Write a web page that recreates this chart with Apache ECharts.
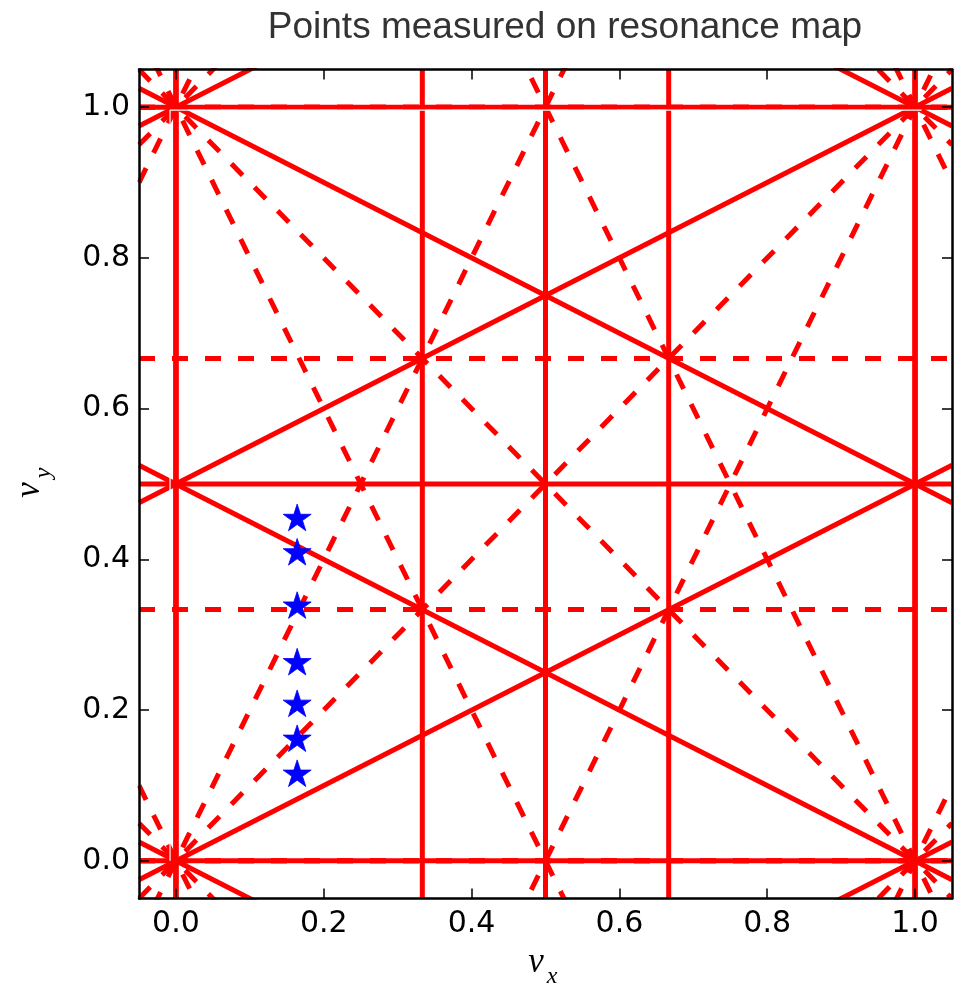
<!DOCTYPE html>
<html>
<head>
<meta charset="utf-8">
<script src="https://cdn.jsdelivr.net/npm/echarts@6/dist/echarts.min.js"></script>
<style>
html,body{margin:0;padding:0;background:#ffffff;}
#chart{width:955px;height:990px;}
</style>
</head>
<body>
<div id="chart"></div>
<script>
// ---------------- data ----------------
const titleText = 'Points measured on resonance map';
const xRange = [-0.05, 1.05];
const yRange = [-0.05, 1.05];
const tickValues = [0, 0.2, 0.4, 0.6, 0.8, 1.0];
const tickLabels = ['0.0', '0.2', '0.4', '0.6', '0.8', '1.0'];

// resonance lines  m*nu_x + n*nu_y = p   (up to third order)
const solidResonances = [
  [1, 0, 0], [1, 0, 1],
  [2, 0, 0], [2, 0, 1], [2, 0, 2],
  [0, 2, 0], [0, 2, 1], [0, 2, 2],
  [3, 0, 0], [3, 0, 1], [3, 0, 2], [3, 0, 3],
  [1, 2, 0], [1, 2, 1], [1, 2, 2], [1, 2, 3],
  [1, -2, -2], [1, -2, -1], [1, -2, 0], [1, -2, 1]
];
const dashedResonances = [
  [0, 1, 0], [0, 1, 1],
  [1, 1, 0], [1, 1, 1], [1, 1, 2],
  [1, -1, -1], [1, -1, 0], [1, -1, 1],
  [0, 3, 0], [0, 3, 1], [0, 3, 2], [0, 3, 3],
  [2, 1, 0], [2, 1, 1], [2, 1, 2], [2, 1, 3],
  [2, -1, -1], [2, -1, 0], [2, -1, 1], [2, -1, 2]
];

// measured working points
const pointNuX = [0.164, 0.164, 0.164, 0.164, 0.164, 0.164, 0.164];
const pointNuY = [0.4538, 0.4082, 0.3375, 0.2624, 0.2072, 0.1608, 0.1144];

// thin white guide seen over the red lines
const guideX = [-0.008, -0.008, 1.009];
const guideY = [0.0, 0.996, 0.996];

// ---------------- build ----------------
function resonanceSegment(m, n, p) {
  if (n === 0) {
    const x = p / m;
    return [[x, yRange[0]], [x, yRange[1]]];
  }
  return [[xRange[0], (p - m * xRange[0]) / n], [xRange[1], (p - m * xRange[1]) / n]];
}

function starPath() {
  const R = 100, r = R * 0.381966;
  let d = '';
  for (let k = 0; k < 10; k++) {
    const a = (-90 + k * 36) * Math.PI / 180;
    const rr = k % 2 === 0 ? R : r;
    const x = (rr * Math.cos(a)).toFixed(2), y = (rr * Math.sin(a)).toFixed(2);
    d += (k === 0 ? 'M' : 'L') + x + ' ' + y + ' ';
  }
  return 'path://' + d + 'Z';
}

function labelFor(v) {
  let best = 0;
  for (let i = 0; i < tickValues.length; i++) {
    if (Math.abs(tickValues[i] - v) < Math.abs(tickValues[best] - v)) best = i;
  }
  return tickLabels[best];
}

const RED = '#ff0000';
const series = [];
solidResonances.forEach(function (r) {
  series.push({
    type: 'line', data: resonanceSegment(r[0], r[1], r[2]),
    showSymbol: false, symbol: 'none', silent: true, clip: true, z: 2,
    lineStyle: { color: RED, width: 5, type: 'solid', cap: 'butt' }
  });
});
dashedResonances.forEach(function (r) {
  series.push({
    type: 'line', data: resonanceSegment(r[0], r[1], r[2]),
    showSymbol: false, symbol: 'none', silent: true, clip: true, z: 2,
    lineStyle: { color: RED, width: 5, type: [16, 17], dashOffset: 0, cap: 'butt' }
  });
});
series.push({
  type: 'line', data: guideX.map(function (x, i) { return [x, guideY[i]]; }),
  showSymbol: false, symbol: 'none', silent: true, clip: true, z: 3,
  lineStyle: { color: '#ffffff', width: 1.2 }
});
series.push({
  type: 'scatter', data: pointNuX.map(function (x, i) { return [x, pointNuY[i]]; }),
  symbol: starPath(), symbolSize: [28, 26.6], symbolOffset: [0, -1.4], z: 4,
  itemStyle: { color: '#0000ff', borderColor: '#0000ff', borderWidth: 0.8, opacity: 1 },
  silent: true
});

const GRID = { left: 139, top: 69.5, width: 813, height: 829 };

function axisCommon(showLabel, isX) {
  return {
    type: 'value', min: isX ? xRange[0] : yRange[0], max: isX ? xRange[1] : yRange[1], z: 10,
    axisLine: { show: true, onZero: false, lineStyle: { color: '#000000', width: 2.5 } },
    axisTick: { show: true, inside: true, length: 10, customValues: tickValues,
      lineStyle: { color: '#000000', width: 1.5 } },
    axisLabel: { show: showLabel, customValues: tickValues, formatter: labelFor,
      fontFamily: 'DejaVu Sans', fontSize: 30, color: '#000000', margin: isX ? 11 : 9 },
    splitLine: { show: false }
  };
}

const xAxes = [Object.assign(axisCommon(true, true), { position: 'bottom' }),
               Object.assign(axisCommon(false, true), { position: 'top' })];
const yAxes = [Object.assign(axisCommon(true, false), { position: 'left' }),
               Object.assign(axisCommon(false, false), { position: 'right' })];

const frameL = GRID.left, frameT = GRID.top, frameR = GRID.left + GRID.width, frameB = GRID.top + GRID.height;
const mask = { fill: '#ffffff' };
const graphic = [
  // masks hiding line overdraw outside the frame
  { type: 'rect', z: 5, silent: true, shape: { x: frameL - 12, y: frameT - 12, width: GRID.width + 24, height: 10.6 }, style: mask },
  { type: 'rect', z: 5, silent: true, shape: { x: frameL - 12, y: frameB + 1.1, width: GRID.width + 24, height: 10 }, style: mask },
  { type: 'rect', z: 5, silent: true, shape: { x: frameL - 12, y: frameT - 12, width: 10.6, height: GRID.height + 24 }, style: mask },
  { type: 'rect', z: 5, silent: true, shape: { x: frameR + 1.1, y: frameT - 12, width: 10, height: GRID.height + 24 }, style: mask },
  // title
  { type: 'text', z: 20, x: 565, y: 28, silent: true,
    style: { text: titleText, fill: '#333333', font: '37px "Liberation Sans", Arial, sans-serif',
      align: 'center', verticalAlign: 'middle' } },
  // x axis name  nu_x
  { type: 'text', z: 20, x: 536, y: 963, silent: true,
    style: { text: 'ν', fill: '#000000', font: 'italic 35px "Liberation Serif", serif', align: 'center', verticalAlign: 'middle' } },
  { type: 'text', z: 20, x: 552, y: 977, silent: true,
    style: { text: 'x', fill: '#000000', font: 'italic 24px "Liberation Serif", serif', align: 'center', verticalAlign: 'middle' } },
  // y axis name  nu_y (rotated)
  { type: 'group', x: 30, y: 490, rotation: Math.PI / 2, silent: true, children: [
    { type: 'text', z: 20, x: 0, y: 0,
      style: { text: 'ν', fill: '#000000', font: 'italic 35px "Liberation Serif", serif', align: 'center', verticalAlign: 'middle' } },
    { type: 'text', z: 20, x: 17, y: 14,
      style: { text: 'y', fill: '#000000', font: 'italic 24px "Liberation Serif", serif', align: 'center', verticalAlign: 'middle' } }
  ] }
];

const chart = echarts.init(document.getElementById('chart'), null, { renderer: 'canvas', width: 955, height: 990 });
chart.setOption({
  animation: false,
  backgroundColor: '#ffffff',
  grid: Object.assign({ show: false, containLabel: false }, GRID),
  xAxis: xAxes,
  yAxis: yAxes,
  series: series,
  graphic: graphic
});
</script>
</body>
</html>
